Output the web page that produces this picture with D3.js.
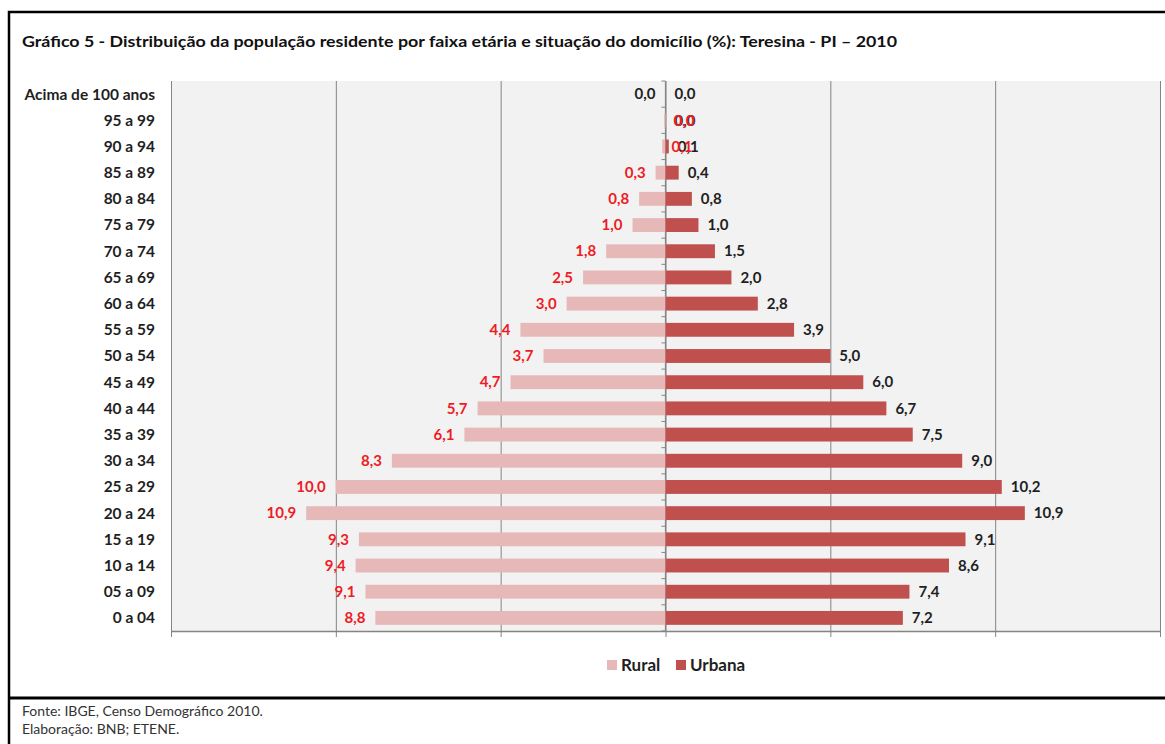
<!DOCTYPE html>
<html>
<head>
<meta charset="utf-8">
<script src="https://cdn.jsdelivr.net/npm/d3@7"></script>
<style>
  html, body { margin: 0; padding: 0; background: #fff; }
  svg { display: block; font-family: Lato, "Open Sans", sans-serif; }
</style>
</head>
<body>
<div id="chart"></div>
<script>
// Pirâmide etária — Teresina 2010, rural x urbana (%)
const faixas = ["Acima de 100 anos", "95 a 99", "90 a 94", "85 a 89", "80 a 84", "75 a 79",
  "70 a 74", "65 a 69", "60 a 64", "55 a 59", "50 a 54", "45 a 49", "40 a 44", "35 a 39",
  "30 a 34", "25 a 29", "20 a 24", "15 a 19", "10 a 14", "05 a 09", "0 a 04"]
const rural = [0.0, 0.04, 0.1, 0.3, 0.8, 1.0, 1.8, 2.5, 3.0, 4.4, 3.7, 4.7, 5.7, 6.1,
  8.3, 10.0, 10.9, 9.3, 9.4, 9.1, 8.8]
const urbana = [0.0, 0.0, 0.1, 0.4, 0.8, 1.0, 1.5, 2.0, 2.8, 3.9, 5.0, 6.0, 6.7, 7.5,
  9.0, 10.2, 10.9, 9.1, 8.6, 7.4, 7.2]
const xTicks = [-15, -10, -5, 0, 5, 10, 15]
const series = ["Rural", "Urbana"]

const W = 1165, H = 744
const colors = { rural: "#e6b9b8", urbana: "#c0504d", redLabel: "#ee1c25", text: "#1f1f1f",
  grid: "#848484", plotBg: "#f2f2f2" }
const fmt = (v) => v.toFixed(1).replace(".", ",")
const labelSize = 15

const svg = d3.select("#chart").append("svg")
  .attr("width", W).attr("height", H)

// Moldura
svg.append("path")
  .attr("d", `M9,${H} V12 H${W}`)
  .attr("fill", "none").attr("stroke", "#000").attr("stroke-width", 2.5)
svg.append("line")
  .attr("x1", 9).attr("x2", W).attr("y1", 698).attr("y2", 698)
  .attr("stroke", "#000").attr("stroke-width", 3)

// Título
svg.append("text")
  .attr("x", 22).attr("y", 47)
  .attr("font-size", 15.5).attr("font-weight", 700).attr("fill", "#111")
  .attr("textLength", 875).attr("lengthAdjust", "spacingAndGlyphs")
  .text("Gráfico 5 - Distribuição da população residente por faixa etária e situação do domicílio (%): Teresina - PI – 2010")

// Escalas
const x = d3.scaleLinear().domain([-15, 15]).range([171, 1160])
const y = d3.scaleBand().domain(faixas).range([81, 631]).paddingInner(0.47).paddingOuter(0.235)

// Fundo do plot
svg.append("rect")
  .attr("x", x(-15)).attr("y", 81)
  .attr("width", x(15) - x(-15)).attr("height", 631 - 81)
  .attr("fill", colors.plotBg)

// Grade vertical
svg.append("g")
  .attr("transform", "translate(0,631)")
  .call(d3.axisBottom(x).tickValues(xTicks).tickSize(-(631 - 81)).tickFormat(""))
  .attr("color", colors.grid)
  .call((s) => s.select(".domain").remove())

// Eixo inferior com marcas
svg.append("g")
  .attr("transform", "translate(0,631)")
  .call(d3.axisBottom(x).tickValues(xTicks).tickSize(6).tickSizeOuter(0).tickFormat(""))
  .attr("color", colors.grid)
  .call((s) => s.select(".domain").attr("stroke-width", 1.5))

// Eixo central (marcas entre faixas)
const bandStep = y.step()
const borders = d3.range(faixas.length + 1).map((i) => 81 + i * bandStep)
const center = svg.append("g")
center.append("line")
  .attr("x1", x(0)).attr("x2", x(0)).attr("y1", 81).attr("y2", 631)
  .attr("stroke", colors.grid).attr("stroke-width", 1.2)
center.selectAll("line.tk").data(borders).join("line")
  .attr("class", "tk")
  .attr("x1", x(0) - 4).attr("x2", x(0))
  .attr("y1", (d) => d).attr("y2", (d) => d)
  .attr("stroke", colors.grid)

// Barras
const rows = faixas.map((f, i) => ({ f, i, r: rural[i], u: urbana[i] }))
svg.append("g").selectAll("rect").data(rows).join("rect")
  .attr("x", (d) => x(-d.r)).attr("y", (d) => y(d.f))
  .attr("width", (d) => x(0) - x(-d.r)).attr("height", y.bandwidth())
  .attr("fill", colors.rural)
svg.append("g").selectAll("rect").data(rows).join("rect")
  .attr("x", x(0)).attr("y", (d) => y(d.f))
  .attr("width", (d) => x(d.u) - x(0)).attr("height", y.bandwidth())
  .attr("fill", colors.urbana)

// Rótulos das faixas
svg.append("g").selectAll("text").data(faixas).join("text")
  .attr("x", 155).attr("y", (d) => y(d) + y.bandwidth() / 2)
  .attr("dy", "0.35em").attr("text-anchor", "end")
  .attr("font-size", 15.5).attr("font-weight", 700).attr("fill", colors.text)
  .text((d) => d)

// Rótulos urbana
svg.append("g").selectAll("text").data(rows).join("text")
  .attr("x", (d) => x(d.u) + 9).attr("y", (d) => y(d.f) + y.bandwidth() / 2)
  .attr("dy", "0.35em")
  .attr("font-size", labelSize).attr("font-weight", 700).attr("fill", colors.text)
  .text((d) => fmt(d.u))

// Rótulos rural (os de valor quase nulo ficaram à direita no original)
svg.append("g").selectAll("text").data(rows).join("text")
  .attr("x", (d) => (d.i === 1 ? x(0) + 8 : d.i === 2 ? x(0) + 6 : x(-d.r) - 10))
  .attr("y", (d) => y(d.f) + y.bandwidth() / 2)
  .attr("dy", "0.35em")
  .attr("text-anchor", (d) => (d.i === 1 || d.i === 2 ? "start" : "end"))
  .attr("font-size", labelSize).attr("font-weight", 700)
  .attr("fill", (d) => (d.i === 0 ? colors.text : colors.redLabel))
  .text((d) => fmt(d.r))

// Legenda
const legend = svg.append("g").attr("transform", "translate(607,665)")
const legendX = [0, 69]
series.forEach((s, i) => {
  const row = legend.append("g").attr("transform", `translate(${legendX[i]},0)`)
  row.append("rect").attr("x", 0).attr("y", -5).attr("width", 10).attr("height", 10)
    .attr("fill", i === 0 ? colors.rural : colors.urbana)
  row.append("text").attr("x", 14).attr("dy", "0.36em")
    .attr("font-size", 17).attr("font-weight", 700).attr("fill", colors.text)
    .text(s)
})

// Fonte
svg.append("text").attr("x", 22).attr("y", 716)
  .attr("font-size", 14).attr("fill", "#333")
  .text("Fonte: IBGE, Censo Demográfico 2010.")
svg.append("text").attr("x", 22).attr("y", 734)
  .attr("font-size", 14).attr("fill", "#333")
  .text("Elaboração: BNB; ETENE.")
</script>
</body>
</html>
